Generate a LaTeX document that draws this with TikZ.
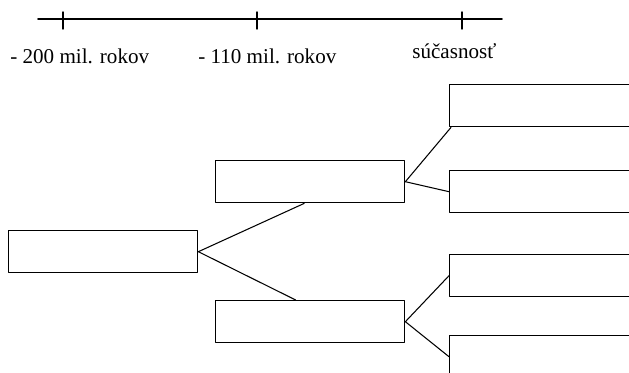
\documentclass[tikz,border=0pt]{standalone}
\usepackage{fontspec}
\setmainfont{Liberation Serif}
\tikzset{
    box/.style = {draw, line width=0.8pt, inner sep=0pt, anchor=north west,
                  minimum width=3.78cm, minimum height=0.84cm},
    rbox/.style = {box, minimum width=4.2cm},
    era/.style = {inner sep=0pt, anchor=base west, font=\fontsize{12}{14}\selectfont},
    link/.style = {line width=0.6pt}
}

\begin{document}
\begin{tikzpicture}[line cap=round,line join=round,x=0.02cm,y=-0.02cm]
\useasboundingbox (0,0) rectangle (629,372);
\clip (0,0) rectangle (629,372);
\draw [line width=1pt] (38,19) -- (502,19);
\foreach \x in {63,257,462}
    \draw [line width=0.8pt] (\x,12) -- (\x,29);
\node[era] (t200) at (10,63) {- 200 mil. rokov};
\node[era] (t110) at (198,63) {- 110 mil. rokov};
\node[era] (tnow) at (412,58) {súčasnosť};
\node[box] (root) at (8,230) {};
\node[box] (mtop) at (215,160) {};
\node[box] (mbot) at (215,300) {};
\node[rbox] (r1) at (449,84) {};
\node[rbox] (r2) at (449,170) {};
\node[rbox] (r3) at (449,254) {};
\node[rbox] (r4) at (449,335) {};
\draw [link] (root.east) -- ([xshift=-0.12cm]mtop.south);
\draw [link] (root.east) -- ([xshift=-0.29cm]mbot.north);
\draw [link] (mtop.east) -- ([xshift=0.04cm]r1.south west);
\draw [link] (mtop.east) -- (r2.west);
\draw [link] (mbot.east) -- (r3.west);
\draw [link] (mbot.east) -- (r4.west);
\end{tikzpicture}
\end{document}
